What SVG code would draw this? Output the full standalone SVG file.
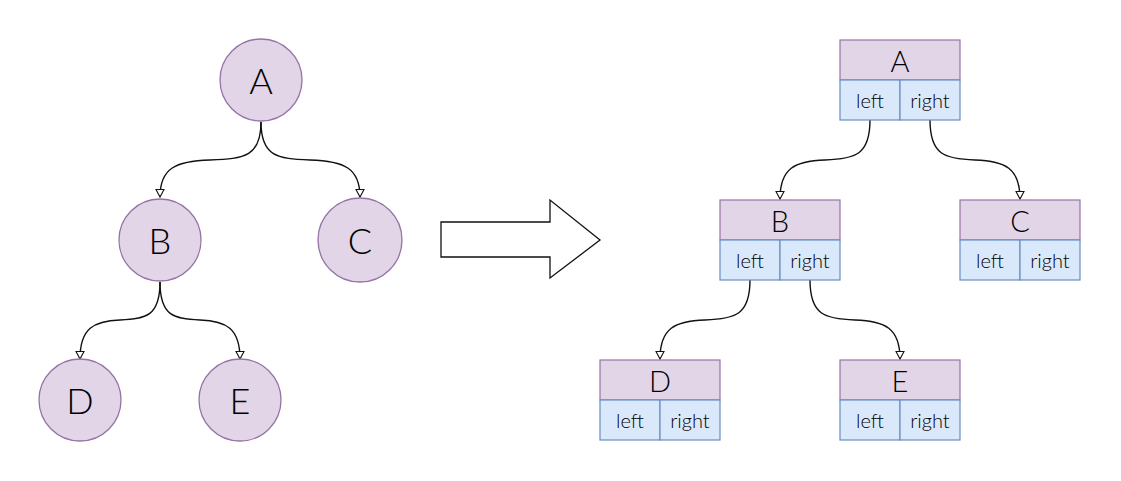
<svg xmlns="http://www.w3.org/2000/svg" width="1121" height="481" viewBox="0 0 1121 481">
<style>
.c{fill:#e1d5e7;stroke:#9673a6;stroke-width:1.3}
.h{fill:#e1d5e7;stroke:#9673a6;stroke-width:1.2}
.p{fill:#dae8fc;stroke:#6c8ebf;stroke-width:1.2}
.big{font-family:Lato,"Open Sans","DejaVu Sans",sans-serif;font-weight:300;font-size:36px;fill:#000;text-anchor:middle;dominant-baseline:central}
.hd{font-family:Lato,"Open Sans","DejaVu Sans",sans-serif;font-weight:300;font-size:29px;fill:#000;text-anchor:middle;dominant-baseline:central}
.sm{font-family:Lato,"Open Sans","DejaVu Sans",sans-serif;font-weight:300;font-size:20px;fill:#000;text-anchor:middle;dominant-baseline:central}
.e{fill:none;stroke:#111;stroke-width:1.4}
</style>
<defs>
<marker id="ah" markerWidth="10" markerHeight="10" refX="8" refY="4.5" orient="auto" markerUnits="userSpaceOnUse">
<path d="M0.5,0.5 L8,4.5 L0.5,8.5 Z" fill="#fff" stroke="#111" stroke-width="1.1"/>
</marker>
</defs>
<g id="edges">
<path class="e" d="M261,122 C261,156 245,159 210,160 C176,161 160,168 160,197" marker-end="url(#ah)"/>
<path class="e" d="M261,122 C261,156 277,159 310,160 C344,161 360,168 360,197" marker-end="url(#ah)"/>
<path class="e" d="M160,282 C160,316 146,319 120,320 C94,321 80,328 80,359" marker-end="url(#ah)"/>
<path class="e" d="M160,282 C160,316 174,319 200,320 C226,321 240,328 240,359" marker-end="url(#ah)"/>
<path class="e" d="M870,120 C870,155 855,159 825,160 C795,161 780,168 780,199" marker-end="url(#ah)"/>
<path class="e" d="M930,120 C930,155 945,159 975,160 C1005,161 1020,168 1020,199" marker-end="url(#ah)"/>
<path class="e" d="M750,280 C750,315 735,319 705,320 C675,321 660,328 660,359" marker-end="url(#ah)"/>
<path class="e" d="M810,280 C810,315 825,319 855,320 C885,321 900,328 900,359" marker-end="url(#ah)"/>
</g>
<g id="circleA"><circle class="c" cx="261" cy="80" r="41"/><text class="big" x="261" y="80">A</text></g>
<g id="circleB"><circle class="c" cx="160" cy="240" r="41"/><text class="big" x="160" y="240">B</text></g>
<g id="circleC"><circle class="c" cx="360" cy="240" r="42"/><text class="big" x="360" y="240">C</text></g>
<g id="circleD"><circle class="c" cx="80" cy="400" r="41"/><text class="big" x="80" y="400">D</text></g>
<g id="circleE"><circle class="c" cx="240" cy="400" r="41"/><text class="big" x="240" y="400">E</text></g>
<g id="bigArrow"><path d="M441,222 L550,222 L550,200 L600,240 L550,278 L550,257 L441,257 Z" fill="#fff" stroke="#111" stroke-width="1.3" stroke-linejoin="miter"/></g>
<g id="nodeA">
<rect class="h" x="840" y="40" width="120" height="40"/><text class="hd" x="900" y="60">A</text>
<rect class="p" x="840" y="80" width="60" height="40"/><text class="sm" x="870" y="100">left</text>
<rect class="p" x="900" y="80" width="60" height="40"/><text class="sm" x="930" y="100">right</text>
</g>
<g id="nodeB">
<rect class="h" x="720" y="200" width="120" height="40"/><text class="hd" x="780" y="220">B</text>
<rect class="p" x="720" y="240" width="60" height="40"/><text class="sm" x="750" y="260">left</text>
<rect class="p" x="780" y="240" width="60" height="40"/><text class="sm" x="810" y="260">right</text>
</g>
<g id="nodeC">
<rect class="h" x="960" y="200" width="120" height="40"/><text class="hd" x="1020" y="220">C</text>
<rect class="p" x="960" y="240" width="60" height="40"/><text class="sm" x="990" y="260">left</text>
<rect class="p" x="1020" y="240" width="60" height="40"/><text class="sm" x="1050" y="260">right</text>
</g>
<g id="nodeD">
<rect class="h" x="600" y="360" width="120" height="40"/><text class="hd" x="660" y="380">D</text>
<rect class="p" x="600" y="400" width="60" height="40"/><text class="sm" x="630" y="420">left</text>
<rect class="p" x="660" y="400" width="60" height="40"/><text class="sm" x="690" y="420">right</text>
</g>
<g id="nodeE">
<rect class="h" x="840" y="360" width="120" height="40"/><text class="hd" x="900" y="380">E</text>
<rect class="p" x="840" y="400" width="60" height="40"/><text class="sm" x="870" y="420">left</text>
<rect class="p" x="900" y="400" width="60" height="40"/><text class="sm" x="930" y="420">right</text>
</g>
</svg>
